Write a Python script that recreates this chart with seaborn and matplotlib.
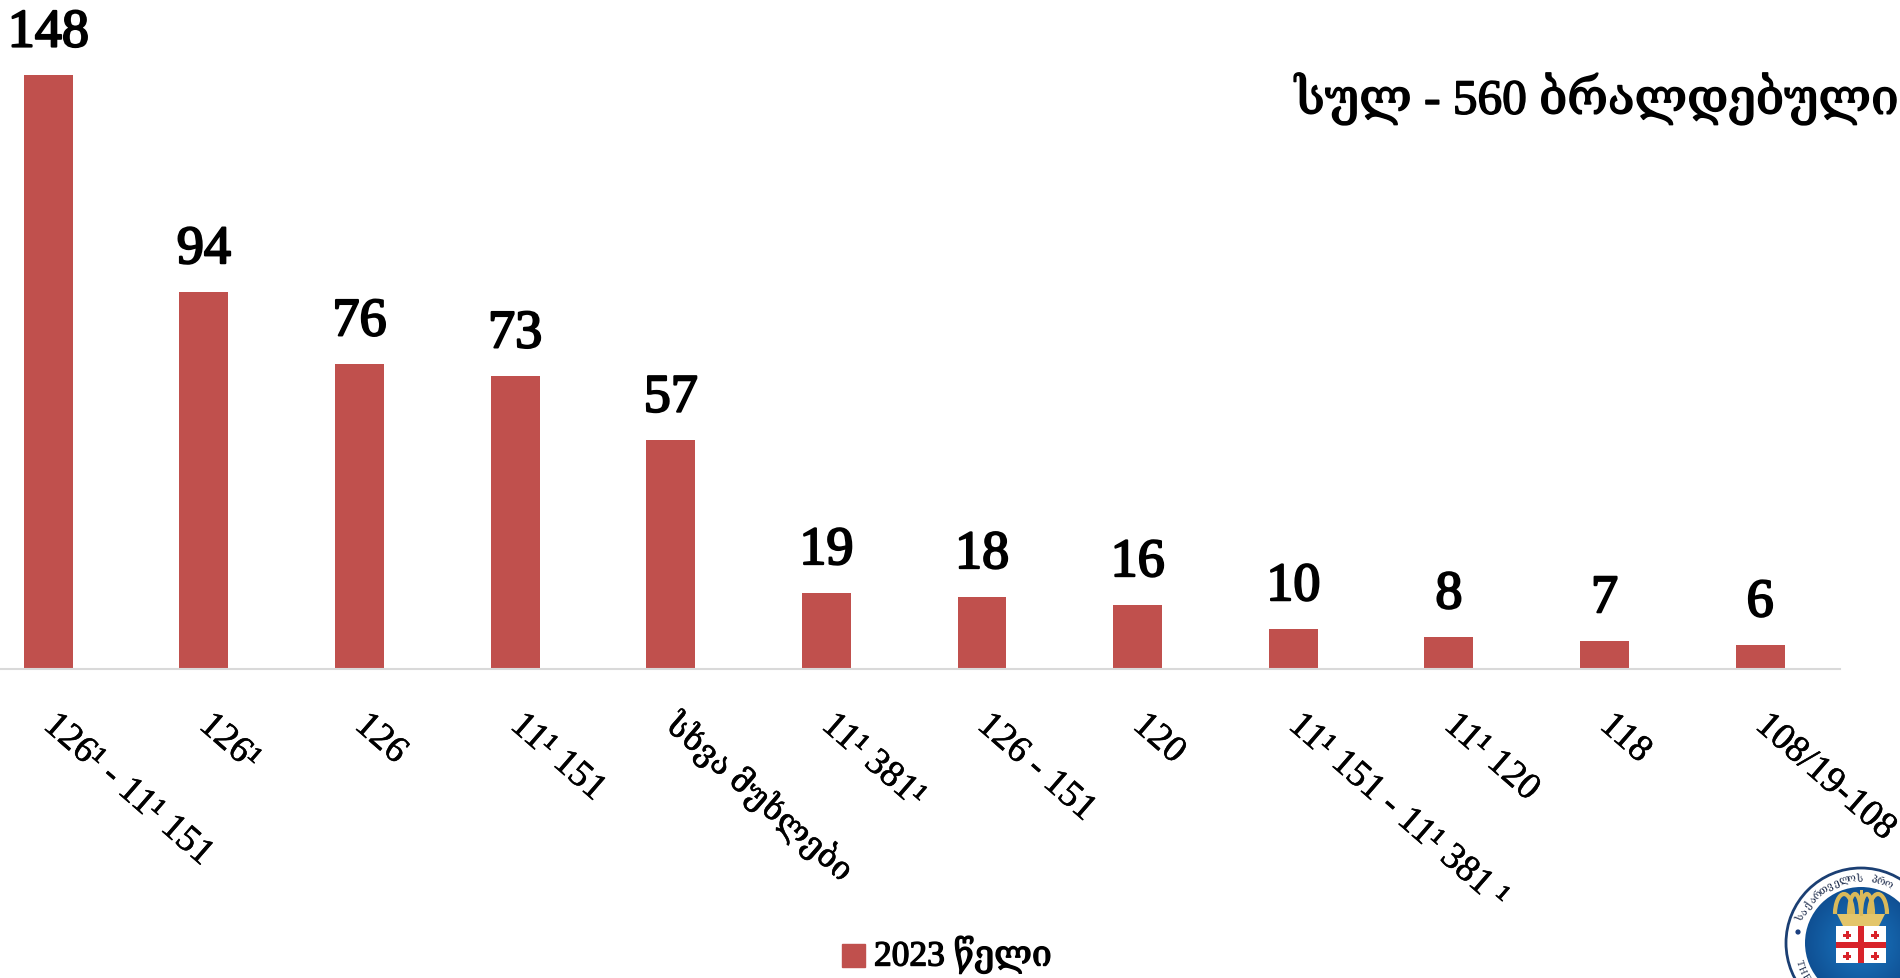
import matplotlib
matplotlib.use('Agg')
import matplotlib.pyplot as plt
import matplotlib.patheffects as pe
import numpy as np
import pandas as pd
import seaborn as sns
from matplotlib.patches import Arc, Circle, Polygon, Rectangle

categories = ['126¹ - 11¹ 151', '126¹', '126', '11¹ 151', 'სხვა მუხლები', '11¹ 381¹',
              '126 - 151', '120', '11¹ 151 - 11¹ 381 ¹', '11¹ 120', '118', '108/19-108']
values = [148, 94, 76, 73, 57, 19, 18, 16, 10, 8, 7, 6]
series_name = '2023 წელი'
total_label = 'სულ - 560 ბრალდებული'
logo_top_text = 'საქართველოს პრო'
logo_side_text = 'THE'

W, H = 1900, 979
BAR_COLOR = '#C0504D'

sns.set_theme(style='white')
plt.rcParams['font.family'] = ['Liberation Serif', 'DejaVu Serif', 'DejaVu Sans']


def heavy(width):
    return [pe.withStroke(linewidth=width, foreground='black')]


fig = plt.figure(figsize=(W / 100, H / 100), dpi=100)
ax = fig.add_axes([0, 1 - 670 / H, 1840 / W, 670 / H])

df = pd.DataFrame({'category': categories, 'value': values})
sns.barplot(data=df, x='category', y='value', color=BAR_COLOR, saturation=1, width=0.314,
            linewidth=0, ax=ax)

ax.set_xlim(-0.31, 11.513)
ax.set_ylim(0, 167)
ax.set_xlabel('')
ax.set_ylabel('')
ax.set_yticks([])
sns.despine(ax=ax, left=True)
ax.spines['bottom'].set_color('#D9D9D9')
ax.spines['bottom'].set_linewidth(1.5)

# value labels
for i, v in enumerate(values):
    ax.annotate(str(v), (i, v), xytext=(0, 12), textcoords='offset points', ha='center', va='bottom',
                fontsize=39, color='black', annotation_clip=False, path_effects=heavy(1.5))

# slanted tick labels, anchored at their start
ax.set_xticks(range(len(categories)))
ax.set_xticklabels(categories, rotation=-41, rotation_mode='anchor', ha='left', va='center', fontsize=27)
ax.tick_params(axis='x', length=0, pad=37)
for t in ax.get_xticklabels():
    t.set_color('black')
    t.set_path_effects(heavy(0.4))
    if 'მ' in t.get_text():
        t.set_fontsize(23.5)

fig.text(1898 / W, 1 - 100 / H, total_label, ha='right', va='center', fontsize=35.5, color='black',
         path_effects=heavy(1.1))

# legend
fig.patches.append(Rectangle((842 / W, 1 - 968 / H), 23 / W, 23 / H, transform=fig.transFigure,
                             color=BAR_COLOR))
fig.text(874 / W, 1 - 956 / H, series_name, ha='left', va='center', fontsize=25.5, color='black',
         path_effects=heavy(1))

# logo in the corner, cut by the page edge
logo = fig.add_axes([0, 0, 1, 1], facecolor='none')
logo.axis('off')
cx, cy = 1861, 944
logo.add_patch(Circle((cx, cy), 75, fc='white', ec='#1B3F73', lw=2))
yy, xx = np.mgrid[cy - 56:cy + 56:200j, cx - 56:cx + 56:200j]
shade = logo.imshow(np.hypot(xx - cx, yy - cy), extent=(cx - 56, cx + 56, cy + 56, cy - 56),
                    cmap=sns.blend_palette(['#1A78C2', '#0B3F80'], as_cmap=True), aspect='auto', zorder=2)
shade.set_clip_path(Circle((cx, cy), 56, transform=logo.transData))
logo.set_xlim(0, W)
logo.set_ylim(H, 0)

# crown
for dx, w in [(-17, 18), (-6, 12), (6, 12), (17, 18)]:
    logo.add_patch(Arc((cx + dx, 915), w, 40, theta1=180, theta2=360, color='#D9B95A', lw=3, zorder=3))
logo.add_patch(Polygon([(cx - 24, 915), (cx + 24, 915), (cx + 18, 927), (cx - 18, 927)],
                       fc='#E3C56A', ec='none', zorder=3))
logo.add_patch(Rectangle((cx - 1.5, 891), 3, 26, fc='#D9B95A', ec='none', zorder=3))

# flag
logo.add_patch(Rectangle((cx - 25, 927), 50, 37, fc='white', ec='none', zorder=3))
logo.add_patch(Rectangle((cx - 3, 927), 6, 37, fc='#D8232A', ec='none', zorder=4))
logo.add_patch(Rectangle((cx - 25, 942.5), 50, 6, fc='#D8232A', ec='none', zorder=4))
for sx, sy in [(-14, -9), (14, -9), (-14, 12), (14, 12)]:
    logo.add_patch(Rectangle((cx + sx - 4, 945 + sy - 1), 8, 2.5, fc='#D8232A', ec='none', zorder=4))
    logo.add_patch(Rectangle((cx + sx - 1, 945 + sy - 4), 2.5, 8, fc='#D8232A', ec='none', zorder=4))

# ring lettering and dot
for i, ch in enumerate(logo_top_text):
    a = np.radians(157 - i * 6.5)
    logo.text(cx + 65 * np.cos(a), cy - 65 * np.sin(a), ch, fontsize=7.5, ha='center', va='center',
              rotation=np.degrees(a) - 90, color='#1B2A4A', zorder=5)
for i, ch in enumerate(logo_side_text):
    a = np.radians(197 + i * 7)
    logo.text(cx + 65 * np.cos(a), cy - 65 * np.sin(a), ch, fontsize=7.5, ha='center', va='center',
              rotation=np.degrees(a) + 90, color='#1B2A4A', zorder=5)
logo.add_patch(Circle((1798, 933), 2.6, fc='#1B3F80', ec='none', zorder=5))

plt.savefig('out.png', dpi=100)
